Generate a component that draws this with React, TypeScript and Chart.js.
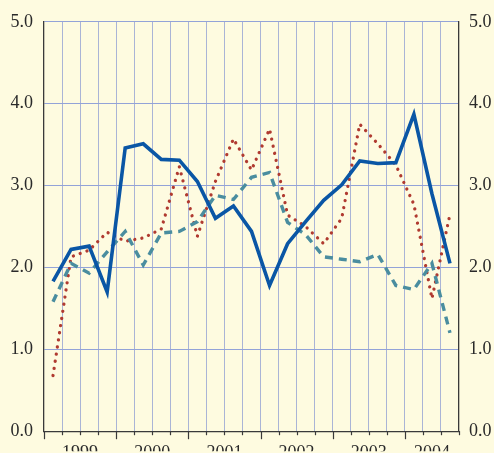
import React, { useEffect, useRef } from "react";
import { Chart, registerables } from "chart.js";

Chart.register(...registerables);

// ---- data (quarterly, 1999 Q1 .. 2004 Q3) ----
const years = ["1999", "2000", "2001", "2002", "2003", "2004"];
const quarterCount = 23;
const blueSeries = [1.83, 2.22, 2.26, 1.70, 3.46, 3.51, 3.32, 3.31, 3.05, 2.60, 2.75, 2.44, 1.78, 2.29, 2.56, 2.82, 3.01, 3.30, 3.27, 3.28, 3.87, 2.90, 2.05];
const redSeries = [0.68, 2.13, 2.21, 2.43, 2.32, 2.36, 2.47, 3.23, 2.38, 3.05, 3.57, 3.19, 3.69, 2.64, 2.50, 2.29, 2.60, 3.75, 3.51, 3.25, 2.77, 1.62, 2.65];
const tealSeries = [1.58, 2.05, 1.93, 2.19, 2.44, 2.03, 2.42, 2.44, 2.56, 2.88, 2.83, 3.10, 3.16, 2.55, 2.40, 2.13, 2.10, 2.07, 2.16, 1.78, 1.73, 2.05, 1.20];
const yTicks = [0, 1, 2, 3, 4, 5];

const BG = "#fefbe0";
const GRID_V = "#aab4d6";
const GRID_H = "#93a3d8";
const AXIS = "#3a3a3a";
const TEXT = "#2a2a2a";
const FONT = "'Liberation Serif', 'Times New Roman', serif";

const totalMonths = quarterCount * 3;
// year label positions: middle of the months of each year that are shown
const yearLabelPos = years.map((_, i) => {
  const s = i * 12;
  const e = Math.min(s + 12, totalMonths);
  return (s + e) / 2;
});

const toPoints = (arr: number[]) => arr.map((v, q) => ({ x: q * 3 + 1.5, y: v }));

const quarterTicksPlugin = {
  id: "quarterTicks",
  afterDraw(chart: any) {
    const xs = chart.scales.x;
    const ctx = chart.ctx;
    const y0 = chart.chartArea.bottom;
    ctx.save();
    ctx.strokeStyle = AXIS;
    ctx.lineWidth = 1.2;
    for (let m = 0; m <= totalMonths; m += 3) {
      const px = Math.round(xs.getPixelForValue(m)) + 0.5;
      const len = m % 12 === 0 ? 8 : 4;
      ctx.beginPath();
      ctx.moveTo(px, y0);
      ctx.lineTo(px, y0 + len);
      ctx.stroke();
    }
    ctx.restore();
  },
};

export default function App() {
  const ref = useRef<HTMLCanvasElement>(null);
  useEffect(() => {
    document.body.style.margin = "0";
    document.body.style.background = BG;
    const tickVals: number[] = [];
    for (let m = 0; m <= totalMonths; m += 3) tickVals.push(m);
    yearLabelPos.forEach((p) => {
      if (!tickVals.includes(p)) tickVals.push(p);
    });
    tickVals.sort((a, b) => a - b);

    const chart = new Chart(ref.current!, {
      type: "line",
      data: {
        datasets: [
          {
            data: toPoints(blueSeries),
            borderColor: "#0a56a5",
            borderWidth: 3.6,
            borderJoinStyle: "miter",
            pointRadius: 0,
            tension: 0,
          },
          {
            data: toPoints(tealSeries),
            borderColor: "#4a8d9f",
            borderWidth: 3.4,
            borderDash: [8, 6],
            borderCapStyle: "butt",
            pointRadius: 0,
            tension: 0,
          },
          {
            data: toPoints(redSeries),
            borderColor: "#b03a30",
            borderWidth: 3.3,
            borderDash: [0.01, 7.2],
            borderCapStyle: "round",
            pointRadius: 0,
            tension: 0,
          },
        ],
      },
      options: {
        responsive: false,
        animation: false,
        events: [],
        layout: { padding: { top: 21, left: 0, right: 0, bottom: 0 } },
        plugins: { legend: { display: false }, tooltip: { enabled: false } },
        scales: {
          x: {
            type: "linear",
            min: 0,
            max: totalMonths,
            afterBuildTicks: (scale: any) => {
              scale.ticks = tickVals.map((v) => ({ value: v }));
            },
            afterFit: (scale: any) => {
              scale.height = 20;
            },
            grid: {
              color: (c: any) => {
                const v = c.tick ? c.tick.value : -1;
                return v > 0 && v < totalMonths && v % 3 === 0 ? GRID_V : "rgba(0,0,0,0)";
              },
              lineWidth: 1,
              tickLength: 6,
              tickColor: "rgba(0,0,0,0)",
            },
            border: { display: true, color: AXIS, width: 1.3 },
            ticks: {
              autoSkip: false,
              maxRotation: 0,
              padding: 5,
              color: TEXT,
              font: { family: FONT, size: 18 },
              callback: (v: any) => {
                const i = yearLabelPos.indexOf(Number(v));
                return i >= 0 ? years[i] : "";
              },
            },
          },
          y: {
            position: "left",
            min: 0,
            max: 5,
            afterBuildTicks: (scale: any) => {
              scale.ticks = yTicks.map((v) => ({ value: v }));
            },
            afterFit: (scale: any) => {
              scale.width = 44;
            },
            grid: { color: GRID_H, lineWidth: 1, drawTicks: false },
            border: { display: true, color: AXIS, width: 1.3 },
            ticks: {
              padding: 11,
              color: TEXT,
              font: { family: FONT, size: 18 },
              callback: (v: any) => Number(v).toFixed(1),
            },
          },
          y2: {
            position: "right",
            min: 0,
            max: 5,
            afterBuildTicks: (scale: any) => {
              scale.ticks = yTicks.map((v) => ({ value: v }));
            },
            afterFit: (scale: any) => {
              scale.width = 35;
            },
            grid: { display: false, drawTicks: false },
            border: { display: true, color: AXIS, width: 1.3 },
            ticks: {
              padding: 10,
              color: TEXT,
              font: { family: FONT, size: 18 },
              callback: (v: any) => Number(v).toFixed(1),
            },
          },
        },
      },
      plugins: [quarterTicksPlugin],
    } as any);
    return () => chart.destroy();
  }, []);

  return (
    <div style={{ position: "fixed", left: 0, top: 0, width: 494, height: 453, background: BG }}>
      <canvas ref={ref} width={494} height={453} style={{ display: "block" }} />
    </div>
  );
}
